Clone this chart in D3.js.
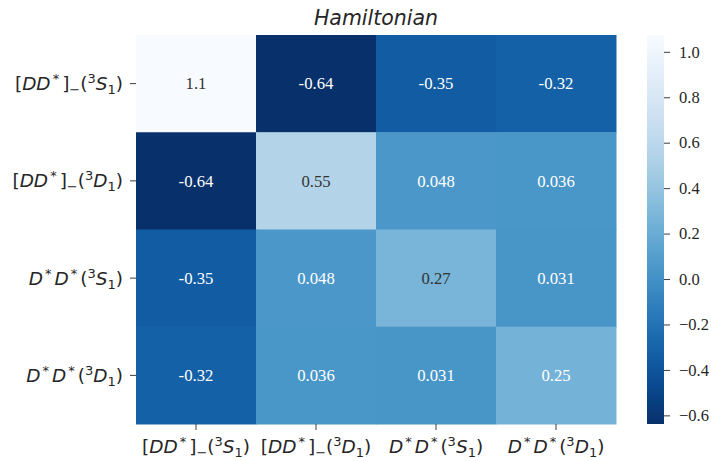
<!DOCTYPE html>
<html>
<head>
<meta charset="utf-8">
<script src="https://cdn.jsdelivr.net/npm/d3@7"></script>
<style>
body { margin: 0; background: #fff; }
svg { display: block; }
</style>
</head>
<body>
<svg id="chart" width="711" height="461"></svg>
<script>
// ---- data ----
const labels = ["DDm3S1", "DDm3D1", "DsDs3S1", "DsDs3D1"];
const row0 = [1.07, -0.638, -0.35, -0.32];
const row1 = [-0.638, 0.55, 0.048, 0.036];
const row2 = [-0.35, 0.048, 0.27, 0.031];
const row3 = [-0.32, 0.036, 0.031, 0.25];
const matrix = [row0, row1, row2, row3];
const displayText = [
  ["1.1", "-0.64", "-0.35", "-0.32"],
  ["-0.64", "0.55", "0.048", "0.036"],
  ["-0.35", "0.048", "0.27", "0.031"],
  ["-0.32", "0.036", "0.031", "0.25"]
];
const cbarTicks = [1.0, 0.8, 0.6, 0.4, 0.2, 0.0, -0.2, -0.4, -0.6];
const titleText = "Hamiltonian";
const vmin = -0.638, vmax = 1.074;

// label parts: [text, style] ; style: i=italic, sup, sub, star
const labelParts = {
  DDm3S1: [["[", "n"], ["DD", "i"], ["*", "star"], ["]", "n"], ["−", "sub"], ["(", "n"], ["3", "sup"], ["S", "i"], ["1", "sub"], [")", "n"]],
  DDm3D1: [["[", "n"], ["DD", "i"], ["*", "star"], ["]", "n"], ["−", "sub"], ["(", "n"], ["3", "sup"], ["D", "i"], ["1", "sub"], [")", "n"]],
  DsDs3S1: [["D", "i"], ["*", "star"], ["D", "i"], ["*", "star"], ["(", "n"], ["3", "sup"], ["S", "i"], ["1", "sub"], [")", "n"]],
  DsDs3D1: [["D", "i"], ["*", "star"], ["D", "i"], ["*", "star"], ["(", "n"], ["3", "sup"], ["D", "i"], ["1", "sub"], [")", "n"]]
};

// ---- layout ----
const svg = d3.select("#chart");
const L = 136, R = 616, T = 35, B = 424;
const cbL = 647, cbR = 664;
const labelSize = 18.5;
const scriptSize = 13;

const x = d3.scaleBand().domain(labels).range([L, R]);
const y = d3.scaleBand().domain(labels).range([T, B]);
const color = v => d3.interpolateBlues(1 - (v - vmin) / (vmax - vmin));

// cells
const cells = [];
matrix.forEach((row, i) => row.forEach((v, j) => cells.push({i, j, v, t: displayText[i][j]})));

svg.append("g").selectAll("rect").data(cells).join("rect")
  .attr("x", d => x(labels[d.j]))
  .attr("y", d => y(labels[d.i]))
  .attr("width", x.bandwidth() + 0.5)
  .attr("height", y.bandwidth() + 0.5)
  .attr("fill", d => color(d.v));

function lum(c) {
  const rgb = d3.rgb(c);
  const f = u => { u /= 255; return u <= 0.03928 ? u / 12.92 : Math.pow((u + 0.055) / 1.055, 2.4); };
  return 0.2126 * f(rgb.r) + 0.7152 * f(rgb.g) + 0.0722 * f(rgb.b);
}

svg.append("g").selectAll("text").data(cells).join("text")
  .attr("x", d => x(labels[d.j]) + x.bandwidth() / 2)
  .attr("y", d => y(labels[d.i]) + y.bandwidth() / 2)
  .attr("dy", "0.35em")
  .attr("text-anchor", "middle")
  .attr("font-family", "'Liberation Serif', 'DejaVu Serif', serif")
  .attr("font-size", 16.7)
  .attr("fill", d => lum(color(d.v)) > 0.408 ? "#333333" : "#ffffff")
  .text(d => d.t);

function renderLabel(sel, key) {
  const parts = labelParts[key];
  let shift = 0;
  let extra = 0;
  parts.forEach(([txt, st]) => {
    const ts = sel.append("tspan").text(txt);
    let target = 0;
    let dx = extra;
    extra = 0;
    if (st === "star") { target = -7; dx += 2; extra = 3; ts.attr("font-size", scriptSize).attr("font-style", "normal"); }
    else if (st === "sup") { target = -7; ts.attr("font-size", scriptSize).attr("font-style", "normal"); }
    else if (st === "sub") { target = 4; ts.attr("font-size", scriptSize).attr("font-style", "normal"); }
    else if (st === "i") { ts.attr("font-style", "italic"); }
    else { ts.attr("font-style", "normal"); }
    ts.attr("dy", target - shift);
    if (dx) ts.attr("dx", dx);
    shift = target;
  });
  if (shift !== 0) sel.append("tspan").attr("dy", -shift).text("\u200b");
}

// y axis labels & ticks
const yAxisG = svg.append("g");
labels.forEach(k => {
  const cy = y(k) + y.bandwidth() / 2;
  yAxisG.append("line").attr("x1", L - 6).attr("x2", L).attr("y1", cy).attr("y2", cy)
    .attr("stroke", "#262626").attr("stroke-width", 0.9);
  const t = yAxisG.append("text")
    .attr("x", L - 13).attr("y", cy + 6.5)
    .attr("text-anchor", "end")
    .attr("font-family", "'DejaVu Sans', sans-serif")
    .attr("font-size", labelSize)
    .attr("fill", "#262626");
  renderLabel(t, k);
});

// x axis labels & ticks
const xAxisG = svg.append("g");
labels.forEach(k => {
  const cx = x(k) + x.bandwidth() / 2;
  xAxisG.append("line").attr("x1", cx).attr("x2", cx).attr("y1", B).attr("y2", B + 6)
    .attr("stroke", "#262626").attr("stroke-width", 0.9);
  const t = xAxisG.append("text")
    .attr("x", cx).attr("y", B + 29)
    .attr("text-anchor", "middle")
    .attr("font-family", "'DejaVu Sans', sans-serif")
    .attr("font-size", labelSize)
    .attr("fill", "#262626");
  renderLabel(t, k);
});

// title
svg.append("text")
  .attr("x", (L + R) / 2).attr("y", 25)
  .attr("text-anchor", "middle")
  .attr("font-family", "'DejaVu Sans', sans-serif")
  .attr("font-style", "italic")
  .attr("font-size", 20.5)
  .attr("fill", "#262626")
  .text(titleText);

// colorbar
const cbScale = d3.scaleLinear().domain([vmin, vmax]).range([B, T]);
const defs = svg.append("defs");
const grad = defs.append("linearGradient").attr("id", "cbgrad")
  .attr("x1", 0).attr("y1", 1).attr("x2", 0).attr("y2", 0);
d3.range(0, 1.0001, 0.05).forEach(s => {
  grad.append("stop").attr("offset", s).attr("stop-color", color(vmin + s * (vmax - vmin)));
});
svg.append("rect").attr("x", cbL).attr("y", T).attr("width", cbR - cbL).attr("height", B - T)
  .attr("fill", "url(#cbgrad)");

const cbAxis = d3.axisRight(cbScale).tickValues(cbarTicks).tickSize(6).tickPadding(9)
  .tickFormat(v => d3.format(".1f")(v).replace("-", "\u2212"));
const cbG = svg.append("g").attr("transform", `translate(${cbR},0)`).call(cbAxis);
cbG.select(".domain").remove();
cbG.selectAll("line").attr("stroke", "#262626").attr("stroke-width", 0.9);
cbG.selectAll("text")
  .attr("font-family", "'Liberation Serif', 'DejaVu Serif', serif")
  .attr("font-size", 16.5)
  .attr("fill", "#262626");
</script>
</body>
</html>
